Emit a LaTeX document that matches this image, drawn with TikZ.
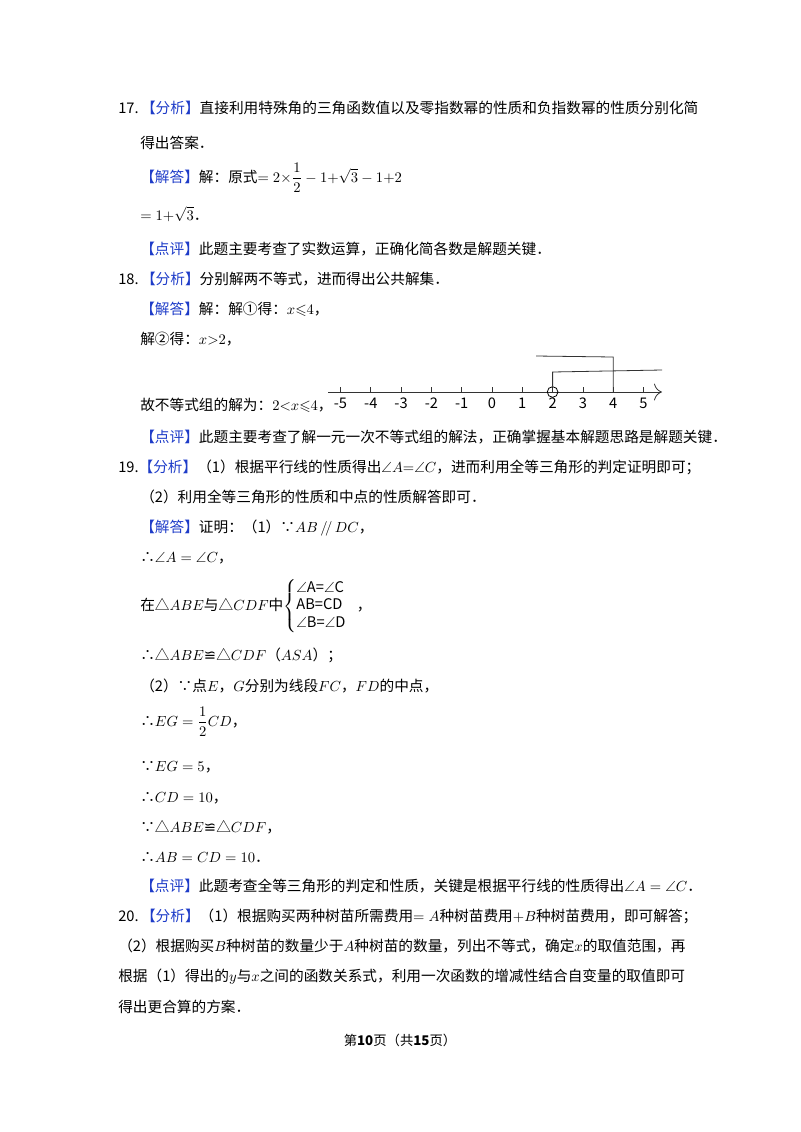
\documentclass[tikz,border=0pt]{standalone}
\usepackage{amsmath,amssymb}
\usepackage{fontspec}
\usetikzlibrary{arrows.meta}
\setmainfont{Noto Sans CJK SC}
\newfontfamily\djvfont{DejaVu Sans}
\begin{document}
\begin{tikzpicture}[x=0.75pt,y=-0.75pt,
  t/.style={anchor=base west,inner sep=0pt,font=\fontsize{11}{13}\selectfont},
  ax/.style={line width=0.6pt,black!80}]
\useasboundingbox (0,0) rectangle (800,1132);
\newcommand{\fx}[1]{\textcolor[RGB]{30,60,200}{【#1】}}
\newcommand{\qdcong}{{\djvfont ≌}}
\node[t] (l1) at (118,113) {17.\,\fx{分析}直接利用特殊角的三角函数值以及零指数幂的性质和负指数幂的性质分别化简};
\node[t] (l2) at (140,148) {得出答案．};
\node[t] (l3) at (140,182) {\fx{解答}解：原式$=2{\times}\dfrac{1}{2}-1{+}\sqrt{3}-1{+}2$};
\node[t] (l4) at (140,220) {$=1{+}\sqrt{3}$．};
\node[t] (l5) at (140,254) {\fx{点评}此题主要考查了实数运算，正确化简各数是解题关键．};
\node[t] (l6) at (118,284) {18.\,\fx{分析}分别解两不等式，进而得出公共解集．};
\node[t] (l7) at (140,314) {\fx{解答}解：解①得：$x{\leqslant}4$，};
\node[t] (l8) at (140,344) {解②得：$x{>}2$，};
\node[t] (l9) at (140,410) {故不等式组的解为：$2{<}x{\leqslant}4$，};
% number line
\coordinate (a0) at (328,392);
\coordinate (a1) at (662,392);
\draw[ax,-{To[length=6pt]}] (a0) -- (a1);
\foreach \i in {-5,...,5}{
  \draw[ax] ({492+30.3*\i},392) -- ({492+30.3*\i},387);
  \node[anchor=north,inner sep=0pt,font=\fontsize{11}{13}\selectfont] at ({492+30.3*\i},398) {\i};}
\node[draw,circle,minimum size=8pt,inner sep=0pt,line width=0.6pt] (c2) at (552.6,392) {};
\draw[ax] (c2.north) -- (552.6,372) -- (662,370);
\draw[ax] (613.2,392) -- (613.2,357) -- (536,356);
\node[t] (l10) at (140,442) {\fx{点评}此题主要考查了解一元一次不等式组的解法，正确掌握基本解题思路是解题关键．};
\node[t] (l11) at (118,472) {19.\fx{分析}（1）根据平行线的性质得出$\angle A{=}\angle C$，进而利用全等三角形的判定证明即可；};
\node[t] (l12) at (140,502) {（2）利用全等三角形的性质和中点的性质解答即可．};
\node[t] (l13) at (140,532) {\fx{解答}证明：（1）∵$AB\,/\!/\,DC$，};
\node[t] (l14) at (140,562) {∴$\angle A=\angle C$，};
\node[t] (l15) at (140,610) {在△$ABE$与△$CDF$中$\left\{\begin{array}{@{}l@{}}\angle\text{A=}\angle\text{C}\\ \text{AB=CD}\\ \angle\text{B=}\angle\text{D}\end{array}\right.$\ \ \ ，};
\node[t] (l16) at (140,660) {∴△$ABE$\qdcong△$CDF$（$ASA$）；};
\node[t] (l17) at (140,691) {（2）∵点$E$，$G$分别为线段$FC$，$FD$的中点，};
\node[t] (l18) at (140,726) {∴$EG=\dfrac{1}{2}CD$，};
\node[t] (l19) at (140,771) {∵$EG=5$，};
\node[t] (l20) at (140,802) {∴$CD=10$，};
\node[t] (l21) at (140,832) {∵△$ABE$\qdcong△$CDF$，};
\node[t] (l22) at (140,862) {∴$AB=CD=10$．};
\node[t] (l23) at (140,891) {\fx{点评}此题考查全等三角形的判定和性质，关键是根据平行线的性质得出$\angle A=\angle C$．};
\node[t] (l24) at (118,921) {20.\,\fx{分析}（1）根据购买两种树苗所需费用$=A$种树苗费用$+B$种树苗费用，即可解答；};
\node[t] (l25) at (118,951) {（2）根据购买$B$种树苗的数量少于$A$种树苗的数量，列出不等式，确定$x$的取值范围，再};
\node[t] (l26) at (118,981) {根据（1）得出的$y$与$x$之间的函数关系式，利用一次函数的增减性结合自变量的取值即可};
\node[t] (l27) at (118,1012) {得出更合算的方案．};
\node[anchor=base,inner sep=0pt,font=\fontsize{10}{12}\selectfont] (ft) at (400,1045) {第\textbf{10}页（共\textbf{15}页）};
\end{tikzpicture}
\end{document}
